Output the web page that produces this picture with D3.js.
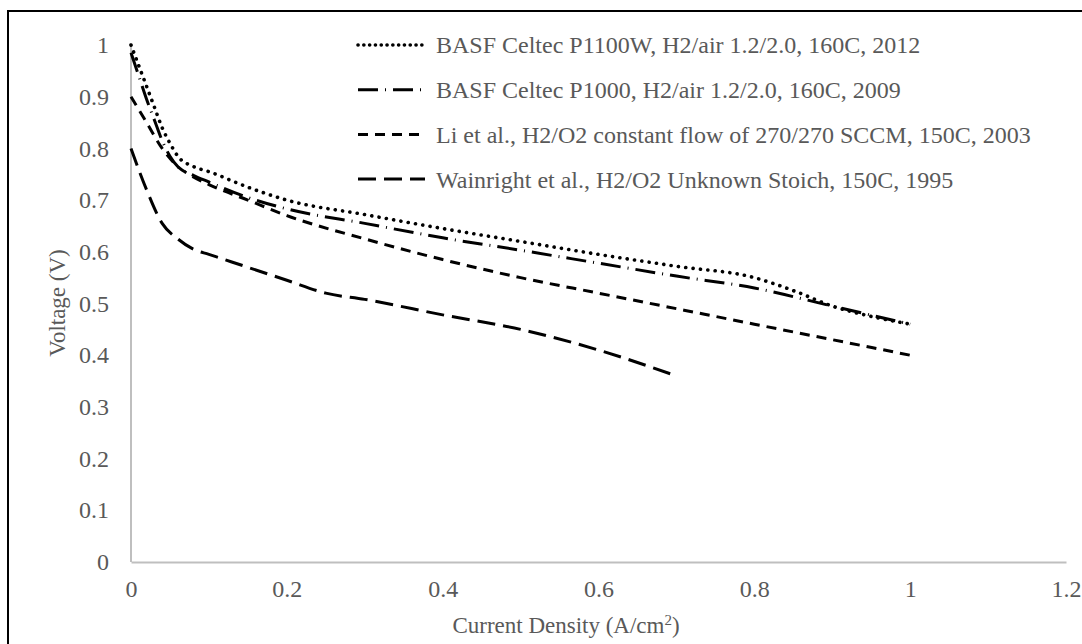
<!DOCTYPE html>
<meta charset="utf-8">
<style>
  body { margin: 0; background: #fff; }
  text { font-family: "Liberation Serif", "Times New Roman", serif; fill: #595959; }
</style>
<svg width="1082" height="644"></svg>
<script src="https://d3js.org/d3.v7.min.js"></script>
<script>

    // series: current density (A/cm2) and voltage (V)
    var p1100wX = [0, 0.01, 0.02, 0.03, 0.04, 0.05, 0.06, 0.08, 0.1, 0.15, 0.2, 0.3, 0.4, 0.5, 0.6, 0.7, 0.8, 0.85, 0.9, 0.95, 1.0];
    var p1100wV = [1.0, 0.96, 0.92, 0.88, 0.84, 0.81, 0.785, 0.765, 0.755, 0.725, 0.70, 0.672, 0.645, 0.62, 0.595, 0.572, 0.55, 0.525, 0.495, 0.475, 0.46];

    var p1000X = [0, 0.01, 0.02, 0.03, 0.04, 0.05, 0.06, 0.08, 0.1, 0.15, 0.2, 0.3, 0.4, 0.5, 0.6, 0.7, 0.8, 0.9, 1.0];
    var p1000V = [0.985, 0.94, 0.895, 0.855, 0.815, 0.785, 0.765, 0.748, 0.735, 0.705, 0.683, 0.655, 0.627, 0.603, 0.578, 0.553, 0.53, 0.495, 0.46];

    var liX = [0, 0.02, 0.04, 0.06, 0.08, 0.1, 0.15, 0.2, 0.3, 0.4, 0.5, 0.6, 0.7, 0.8, 0.9, 1.0];
    var liV = [0.9, 0.85, 0.8, 0.765, 0.745, 0.73, 0.7, 0.67, 0.625, 0.585, 0.55, 0.52, 0.49, 0.46, 0.43, 0.40];

    var wainX = [0, 0.02, 0.04, 0.06, 0.08, 0.1, 0.15, 0.2, 0.25, 0.3, 0.4, 0.5, 0.6, 0.7];
    var wainV = [0.8, 0.72, 0.655, 0.625, 0.605, 0.595, 0.57, 0.545, 0.52, 0.508, 0.478, 0.45, 0.41, 0.36];

    var seriesNames = [
        "BASF Celtec P1100W, H2/air 1.2/2.0, 160C, 2012",
        "BASF Celtec P1000, H2/air 1.2/2.0, 160C, 2009",
        "Li et al., H2/O2 constant flow of 270/270 SCCM, 150C, 2003",
        "Wainright et al., H2/O2 Unknown Stoich, 150C, 1995"
    ];

    var xTicks = [0, 0.2, 0.4, 0.6, 0.8, 1, 1.2];
    var yTicks = [0, 0.1, 0.2, 0.3, 0.4, 0.5, 0.6, 0.7, 0.8, 0.9, 1];

    var svg = d3.select("svg");

    // chart frame (runs off the right and bottom edges)
    svg.append("rect")
        .attr("x", 8).attr("y", 11)
        .attr("width", 1200).attr("height", 800)
        .attr("fill", "none")
        .attr("stroke", "#000")
        .attr("stroke-width", 2);

    var x = d3.scaleLinear().domain([0, 1.2]).range([131, 1066]);
    var y = d3.scaleLinear().domain([0, 1]).range([562, 45]);

    // axes: plain grey lines, no tick marks
    var xAxis = svg.append("g")
        .attr("transform", "translate(0," + y(0) + ")")
        .call(d3.axisBottom(x).tickValues(xTicks).tickSize(0).tickPadding(18)
            .tickFormat(function(d) { return d3.format("")(d); }));
    var yAxis = svg.append("g")
        .attr("transform", "translate(" + x(0) + ",0)")
        .call(d3.axisLeft(y).tickValues(yTicks).tickSize(0).tickPadding(22)
            .tickFormat(function(d) { return d3.format("")(d); }));

    [xAxis, yAxis].forEach(function(a) {
        a.select(".domain").attr("stroke", "#bfbfbf").attr("stroke-width", 2);
        a.selectAll("text")
            .attr("fill", "#595959")
            .style("font-family", "'Liberation Serif', serif")
            .style("font-size", "24px");
    });
    yAxis.select(".domain").attr("d", "M0," + y(0) + "V" + y(1));

    // axis titles
    var xTitle = svg.append("text")
        .attr("x", 566).attr("y", 633)
        .attr("text-anchor", "middle")
        .style("font-size", "23px");
    xTitle.append("tspan").text("Current Density (A/cm");
    xTitle.append("tspan").attr("dy", -8).style("font-size", "15px").text("2");
    xTitle.append("tspan").attr("dy", 8).text(")");

    svg.append("text")
        .attr("transform", "translate(65,303) rotate(-90)")
        .attr("text-anchor", "middle")
        .style("font-size", "23px")
        .text("Voltage (V)");

    // series styles
    var dashes = ["0.1,7.3", "20,7,1,7", "10,7", "18,8"];
    var caps = ["round", "butt", "butt", "butt"];
    var widths = [3.6, 3, 3, 3];

    var series = [
        d3.zip(p1100wX, p1100wV),
        d3.zip(p1000X, p1000V),
        d3.zip(liX, liV),
        d3.zip(wainX, wainV)
    ];

    var line = d3.line()
        .x(function(d) { return x(d[0]); })
        .y(function(d) { return y(d[1]); })
        .curve(d3.curveMonotoneX);

    svg.selectAll(".series")
        .data(series)
        .enter().append("path")
        .attr("class", "series")
        .attr("d", line)
        .attr("fill", "none")
        .attr("stroke", "#000")
        .attr("stroke-width", function(d, i) { return widths[i]; })
        .attr("stroke-linecap", function(d, i) { return caps[i]; })
        .attr("stroke-dasharray", function(d, i) { return dashes[i]; });

    // legend
    var legend = svg.selectAll(".legend")
        .data(seriesNames)
        .enter().append("g")
        .attr("class", "legend")
        .attr("transform", function(d, i) { return "translate(358," + (45 + i * 44.7) + ")"; });

    legend.append("line")
        .attr("x1", 0).attr("x2", 67)
        .attr("stroke", "#000")
        .attr("stroke-width", function(d, i) { return widths[i]; })
        .attr("stroke-linecap", function(d, i) { return caps[i]; })
        .attr("stroke-dasharray", function(d, i) { return i === 0 ? "0.1,5.7" : dashes[i]; });

    legend.append("text")
        .attr("x", 78)
        .attr("dy", "0.35em")
        .style("font-size", "24px")
        .text(function(d) { return d; });

</script>
